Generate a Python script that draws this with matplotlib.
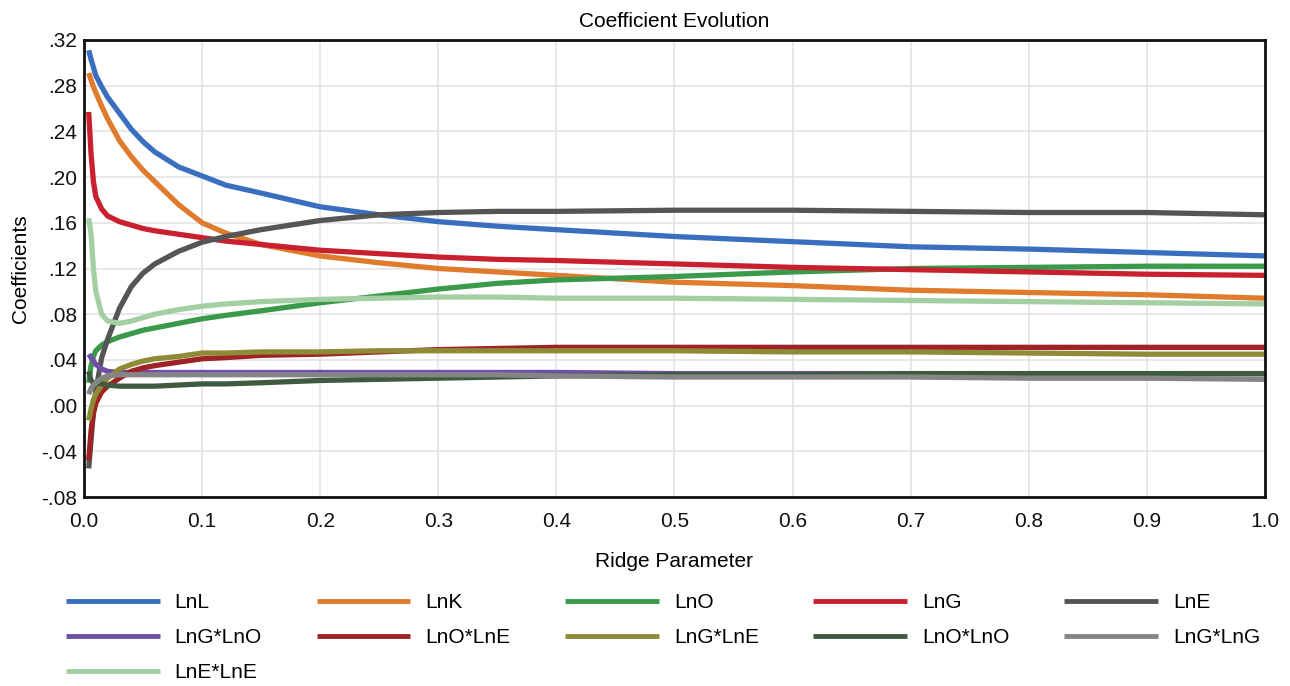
import matplotlib
matplotlib.use("Agg")
import matplotlib.pyplot as plt
from matplotlib.ticker import FuncFormatter, MultipleLocator

plt.rcParams['font.family'] = ['Liberation Sans', 'DejaVu Sans']

ridge = [0.004, 0.006, 0.008, 0.01, 0.015, 0.02, 0.03, 0.04, 0.05, 0.06, 0.08, 0.1,
         0.12, 0.15, 0.2, 0.25, 0.3, 0.35, 0.4, 0.5, 0.6, 0.7, 0.8, 0.9, 1.0]

lnL = [0.311, 0.303, 0.296, 0.289, 0.279, 0.270, 0.256, 0.242, 0.231, 0.222, 0.209, 0.201,
       0.193, 0.186, 0.174, 0.167, 0.161, 0.157, 0.154, 0.148, 0.1435, 0.139, 0.137, 0.134, 0.131]
lnK = [0.291, 0.285, 0.279, 0.274, 0.262, 0.251, 0.232, 0.218, 0.206, 0.196, 0.176, 0.160,
       0.151, 0.141, 0.131, 0.125, 0.120, 0.117, 0.114, 0.108, 0.105, 0.101, 0.099, 0.097, 0.094]
lnO = [0.020, 0.035, 0.043, 0.048, 0.053, 0.056, 0.060, 0.063, 0.066, 0.068, 0.072, 0.076,
       0.079, 0.083, 0.090, 0.096, 0.102, 0.107, 0.110, 0.113, 0.117, 0.120, 0.121, 0.122, 0.122]
lnG = [0.257, 0.220, 0.196, 0.183, 0.172, 0.166, 0.161, 0.158, 0.155, 0.153, 0.150, 0.147,
       0.144, 0.141, 0.136, 0.133, 0.130, 0.128, 0.127, 0.124, 0.121, 0.119, 0.117, 0.115, 0.114]
lnE = [-0.055, -0.030, -0.005, 0.013, 0.042, 0.058, 0.085, 0.104, 0.116, 0.124, 0.135, 0.143,
       0.148, 0.154, 0.162, 0.167, 0.169, 0.170, 0.170, 0.171, 0.171, 0.170, 0.169, 0.169, 0.167]
lnG_lnO = [0.045, 0.042, 0.039, 0.036, 0.032, 0.030, 0.029, 0.029, 0.029, 0.029, 0.029, 0.029,
           0.029, 0.029, 0.029, 0.029, 0.029, 0.029, 0.029, 0.028, 0.028, 0.028, 0.028, 0.028, 0.028]
lnO_lnE = [-0.048, -0.022, -0.007, 0.002, 0.012, 0.017, 0.024, 0.030, 0.033, 0.035, 0.038, 0.041,
           0.042, 0.044, 0.045, 0.047, 0.049, 0.050, 0.051, 0.051, 0.051, 0.051, 0.051, 0.051, 0.051]
lnG_lnE = [-0.013, -0.003, 0.005, 0.010, 0.018, 0.024, 0.032, 0.036, 0.039, 0.041, 0.043, 0.046,
           0.046, 0.047, 0.047, 0.048, 0.048, 0.048, 0.048, 0.048, 0.047, 0.047, 0.046, 0.045, 0.045]
lnO_lnO = [0.030, 0.022, 0.020, 0.020, 0.019, 0.018, 0.017, 0.017, 0.017, 0.017, 0.018, 0.019,
           0.019, 0.020, 0.022, 0.023, 0.024, 0.025, 0.026, 0.027, 0.027, 0.028, 0.028, 0.028, 0.028]
lnG_lnG = [0.010, 0.015, 0.018, 0.020, 0.024, 0.026, 0.027, 0.027, 0.027, 0.027, 0.027, 0.027,
           0.027, 0.027, 0.027, 0.027, 0.027, 0.027, 0.026, 0.025, 0.025, 0.025, 0.024, 0.024, 0.023]
lnE_lnE = [0.164, 0.150, 0.120, 0.100, 0.080, 0.074, 0.072, 0.074, 0.077, 0.080, 0.084, 0.087,
           0.089, 0.091, 0.093, 0.094, 0.095, 0.095, 0.094, 0.094, 0.093, 0.092, 0.091, 0.090, 0.089]

labels = ["LnL", "LnK", "LnO", "LnG", "LnE", "LnG*LnO", "LnO*LnE", "LnG*LnE",
          "LnO*LnO", "LnG*LnG", "LnE*LnE"]
series = [lnL, lnK, lnO, lnG, lnE, lnG_lnO, lnO_lnE, lnG_lnE, lnO_lnO, lnG_lnG, lnE_lnE]
colors = ["#3a6fbf", "#e07b2d", "#3a9a4a", "#c8202e", "#555555", "#6f4fa8", "#9e2226",
          "#8f8a35", "#3f5a3f", "#858585", "#a3cfa3"]

fig = plt.figure(figsize=(12.9, 6.86), dpi=100)
ax = fig.add_axes([0.0651, 0.2755, 0.9155, 0.6662])

handles = []
for y, lab, c in zip(series, labels, colors):
    ln, = ax.plot(ridge, y, color=c, lw=3.8, label=lab, solid_capstyle='butt')
    handles.append(ln)

ax.set_xlim(0.0, 1.0)
ax.set_ylim(-0.08, 0.32)
ax.xaxis.set_major_locator(MultipleLocator(0.1))
ax.yaxis.set_major_locator(MultipleLocator(0.04))
ax.xaxis.set_major_formatter(FuncFormatter(lambda v, p: f"{v:.1f}"))

def yfmt(v, p):
    s = f"{v:.2f}"
    if s.startswith("-0"):
        s = "-" + s[2:]
    elif s.startswith("0"):
        s = s[1:]
    if s == "-.00":
        s = ".00"
    return s

ax.yaxis.set_major_formatter(FuncFormatter(yfmt))
ax.grid(True, color="#e4e4e4", lw=1.2)
ax.set_axisbelow(True)
ax.tick_params(length=0, labelsize=15, colors="#111111")
ax.tick_params(axis="x", pad=11)
ax.tick_params(axis="y", pad=5)
for s in ax.spines.values():
    s.set_linewidth(2.0)
    s.set_color("#111111")

ax.set_title("Coefficient Evolution", fontsize=15, pad=9)
ax.set_xlabel("Ridge Parameter", fontsize=15, labelpad=15)
ax.set_ylabel("Coefficients", fontsize=15, labelpad=8)

# row-major legend order (matplotlib fills columns first)
order = [0, 5, 10, 1, 6, 2, 7, 3, 8, 4, 9]
leg = fig.legend([handles[i] for i in order], [labels[i] for i in order],
                 loc="upper left", bbox_to_anchor=(66 / 1290, 1 - 593 / 686), ncol=5,
                 frameon=False, fontsize=15, handlelength=4.5, handletextpad=0.72,
                 columnspacing=2.62, labelspacing=0.78, borderpad=0, borderaxespad=0)
for h in leg.get_lines():
    h.set_linewidth(3.5)

fig.savefig("out.png", dpi=100)
